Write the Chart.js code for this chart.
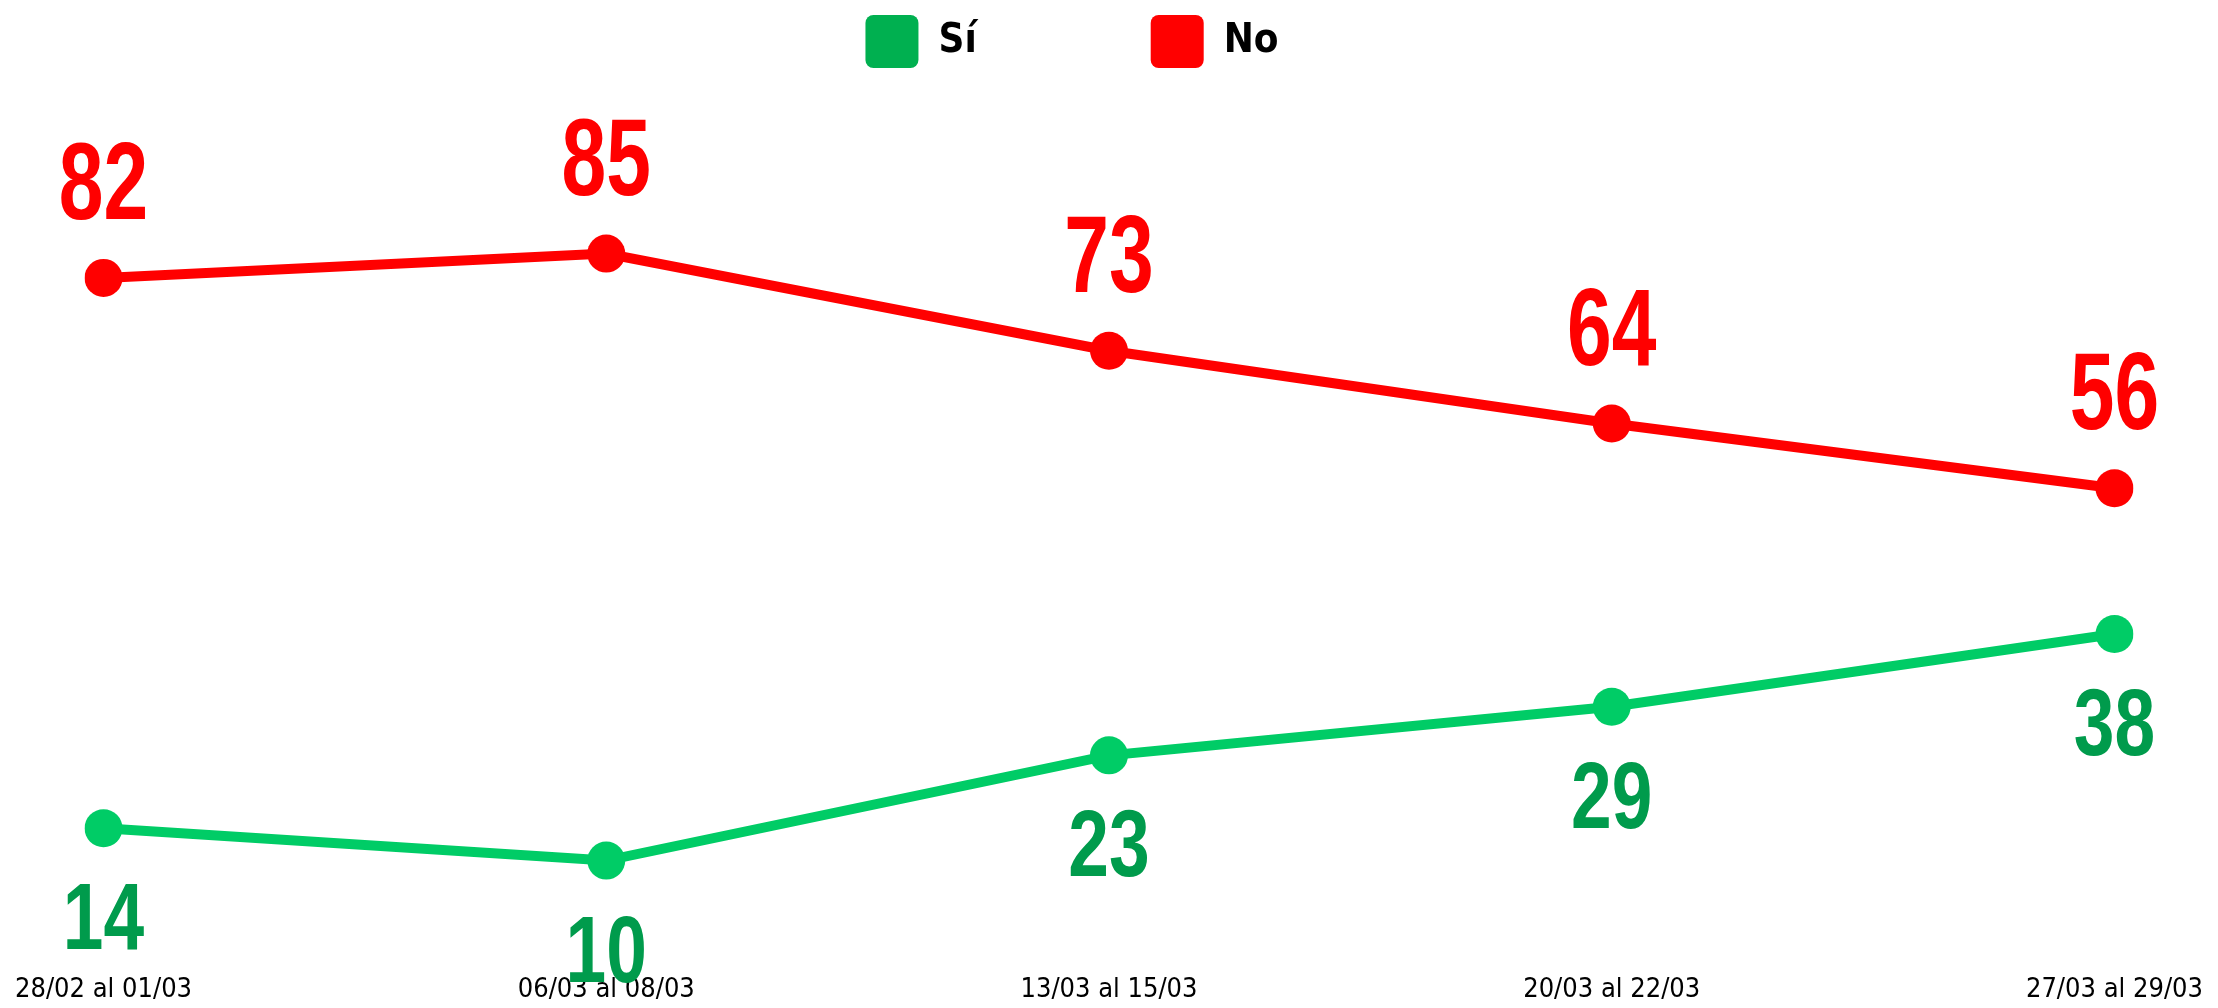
<!DOCTYPE html>
<html>
<head>
<meta charset="utf-8">
<script src="https://cdn.jsdelivr.net/npm/chart.js@4.4.1/dist/chart.umd.min.js"></script>
<style>
  html, body { margin: 0; padding: 0; background: #ffffff; }
  #wrap { width: 2218px; height: 1008px; position: relative; }
</style>
</head>
<body>
<div id="wrap"><canvas id="c"></canvas></div>
<script>
const categories = ['28/02 al 01/03', '06/03 al 08/03', '13/03 al 15/03', '20/03 al 22/03', '27/03 al 29/03'];
const seriesNames = ['Sí', 'No'];
const siValues = [14, 10, 23, 29, 38];
const noValues = [82, 85, 73, 64, 56];

const COND = '"DejaVu Sans Condensed", "DejaVu Sans", sans-serif';
const LABELFONT = '"Liberation Sans", Arial, sans-serif';

const valueLabels = {
  id: 'valueLabels',
  afterDatasetsDraw(chart) {
    const ctx = chart.ctx;
    chart.data.datasets.forEach((ds, di) => {
      const meta = chart.getDatasetMeta(di);
      const cfg = ds.valueLabel;
      meta.data.forEach((pt, i) => {
        ctx.save();
        ctx.fillStyle = cfg.color;
        ctx.font = 'bold ' + cfg.size + 'px ' + LABELFONT;
        ctx.textAlign = 'center';
        ctx.textBaseline = 'alphabetic';
        ctx.translate(pt.x, cfg.above ? pt.y - cfg.offset : pt.y + cfg.offset);
        ctx.scale(cfg.squeeze, 1);
        ctx.fillText(String(ds.data[i]), 0, 0);
        ctx.restore();
      });
    });
  }
};

new Chart(document.getElementById('c'), {
  type: 'line',
  data: {
    labels: categories,
    datasets: [
      {
        label: seriesNames[0],
        data: siValues,
        borderColor: '#00CC66',
        backgroundColor: '#00B050',
        pointBackgroundColor: '#00CC66',
        pointBorderColor: '#00CC66',
        borderWidth: 10,
        pointRadius: 19,
        pointHoverRadius: 19,
        pointBorderWidth: 0,
        tension: 0,
        fill: false,
        valueLabel: { color: '#009B4C', size: 95, offset: 121, above: false, squeeze: 0.77 }
      },
      {
        label: seriesNames[1],
        data: noValues,
        borderColor: '#FF0000',
        backgroundColor: '#FF0000',
        pointBackgroundColor: '#FF0000',
        pointBorderColor: '#FF0000',
        borderWidth: 10,
        pointRadius: 19,
        pointHoverRadius: 19,
        pointBorderWidth: 0,
        tension: 0,
        fill: false,
        valueLabel: { color: '#FF0000', size: 110, offset: 59, above: true, squeeze: 0.73 }
      }
    ]
  },
  options: {
    responsive: true,
    maintainAspectRatio: false,
    animation: false,
    events: [],
    layout: { padding: { left: 0, right: 74, top: -159, bottom: -31 } },
    plugins: {
      tooltip: { enabled: false },
      legend: {
        display: true,
        position: 'top',
        labels: {
          boxWidth: 53,
          boxHeight: 53,
          useBorderRadius: true,
          borderRadius: 8,
          padding: 174,
          color: '#000000',
          font: { family: COND, size: 40, weight: 'bold' },
          generateLabels(chart) {
            const items = Chart.defaults.plugins.legend.labels.generateLabels(chart);
            items.forEach(it => { it.lineWidth = 0; it.strokeStyle = it.fillStyle; });
            return items;
          }
        }
      }
    },
    scales: {
      x: {
        type: 'category',
        offset: false,
        grid: { display: false, drawTicks: false },
        border: { display: false },
        ticks: {
          color: '#000000',
          padding: 15,
          maxRotation: 0,
          autoSkip: false,
          font: { family: COND, size: 27, lineHeight: 2.5 }
        }
      },
      y: {
        display: false,
        min: 0,
        max: 106.7
      }
    }
  },
  plugins: [valueLabels]
});
</script>
</body>
</html>
